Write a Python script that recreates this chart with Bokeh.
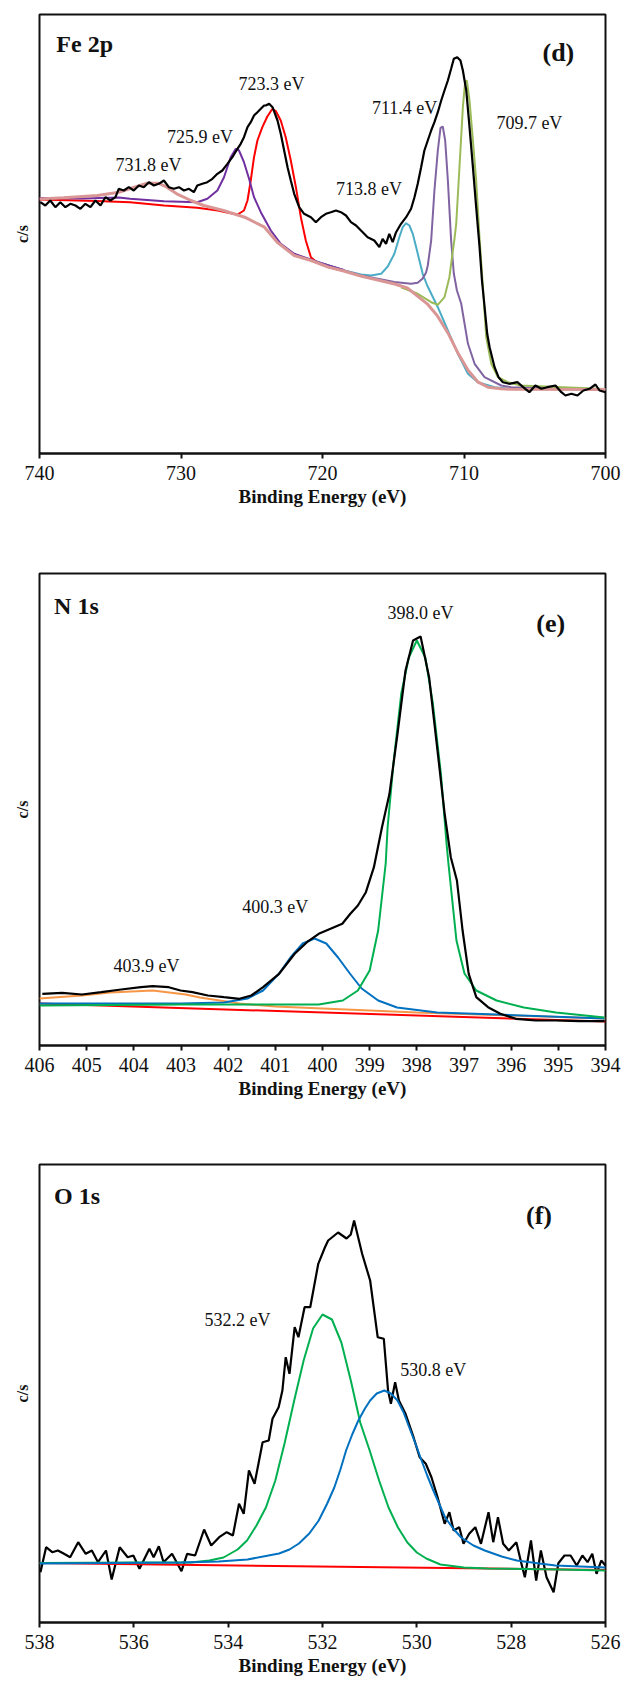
from bokeh.plotting import figure
from bokeh.models import Range1d, FixedTicker, Label
from bokeh.layouts import column
from bokeh.embed import file_html
from bokeh.resources import INLINE

FONT = "Liberation Serif"

# ---------------- tick labels ----------------
FE_TICKS = [740, 730, 720, 710, 700]
N_TICKS = [394, 395, 396, 397, 398, 399, 400, 401, 402, 403, 404, 405, 406]
O_TICKS = [526, 528, 530, 532, 534, 536, 538]

# ---------------- (d) Fe 2p ----------------
fe_black_ev = [739.94, 739.59, 739.24, 738.88, 738.53, 738.17, 737.82, 737.46, 737.11, 736.76,
               736.40, 736.05, 735.69, 735.34, 734.99, 734.63, 734.40, 734.04, 733.69, 733.34,
               732.98, 732.63, 732.27, 731.92, 731.57, 731.21, 730.86, 730.50, 730.15, 729.79,
               729.44, 729.09, 728.85, 728.49, 728.14, 727.78, 727.43, 727.08, 726.72, 726.37,
               726.01, 725.78, 725.55, 725.30, 725.07, 724.84, 724.60, 724.36, 724.13, 724.01,
               723.77, 723.53, 723.18, 722.95, 722.71, 722.47, 722.24, 722.00, 721.65, 721.30,
               720.82, 720.47, 720.11, 719.76, 719.41, 719.05, 718.70, 718.34, 717.99, 717.63,
               717.28, 716.81, 716.34, 715.98, 715.75, 715.51, 715.28, 715.04, 714.80, 714.45,
               714.09, 713.74, 713.50, 713.27, 713.03, 712.80, 712.56, 712.32, 712.09, 711.85,
               711.61, 711.38, 711.14, 710.91, 710.72, 710.48, 710.25, 710.08, 709.84, 709.61,
               709.37, 709.14, 708.90, 708.73, 708.59, 708.36, 708.19, 707.84, 707.56, 707.25,
               706.80, 706.23, 705.67, 705.38, 704.96, 704.53, 704.11, 703.54, 703.12, 702.83,
               702.41, 701.98, 701.56, 701.13, 700.71, 700.42, 700.00]
fe_black_cps = [251.3, 248.0, 253.0, 246.3, 251.3, 246.3, 249.7, 248.0, 244.7, 249.7,
                246.3, 253.0, 248.0, 256.3, 253.0, 256.3, 264.7, 263.0, 266.3, 263.0,
                268.0, 266.3, 271.3, 268.0, 269.7, 273.0, 266.3, 264.7, 266.3, 263.0,
                264.7, 261.3, 268.0, 269.7, 271.3, 274.7, 279.7, 283.0, 289.7, 296.3,
                304.7, 309.7, 316.3, 326.3, 331.3, 338.0, 341.3, 344.7, 348.0, 348.0,
                349.7, 346.3, 333.0, 319.7, 303.0, 286.3, 273.0, 259.7, 246.3, 239.7,
                236.3, 231.3, 236.3, 239.7, 241.3, 243.0, 241.3, 238.0, 231.3, 228.0,
                223.0, 216.3, 213.0, 206.3, 214.7, 209.7, 219.7, 211.3, 221.3, 229.7,
                236.3, 244.7, 256.3, 269.7, 286.3, 303.0, 313.0, 323.0, 331.3, 341.3,
                353.0, 363.0, 373.0, 384.7, 394.7, 396.3, 393.0, 383.0, 363.0, 326.3,
                286.3, 246.3, 206.3, 173.0, 153.0, 119.7, 106.3, 86.3, 76.3, 71.3,
                69.7, 71.3, 64.7, 61.3, 68.0, 64.7, 66.3, 68.0, 61.3, 58.0,
                59.7, 58.0, 63.0, 64.7, 69.0, 63.0, 61.3]

fe_bg_ev = [740.0, 738.3, 735.9, 734.4, 733.3, 732.4, 731.6, 731.0, 730.3, 729.3, 728.4, 727.0,
            725.5, 724.1, 723.2, 722.0, 720.8, 719.6, 718.5, 717.3, 716.1, 714.9, 714.0, 712.6,
            711.9, 711.1, 710.4, 709.7, 709.0, 708.3, 707.4, 706.7, 700.0]
fe_bg_cps = [254.5, 255.7, 258.0, 261.3, 266.3, 270.3, 270.3, 266.3, 259.7, 253.0, 248.0, 243.0,
             236.3, 226.3, 211.3, 198.0, 193.0, 186.5, 182.5, 177.5, 173.5, 169.5, 165.5, 149.7,
             138.0, 119.7, 99.7, 83.0, 71.3, 66.3, 64.7, 64.3, 64.0]

fe_p7233_ev = [740.0, 736.0, 733.6, 731.2, 728.85, 727.4, 726.5, 726.0, 725.55, 725.3, 725.07,
               724.84, 724.6, 724.25, 723.9, 723.55, 723.3, 722.95, 722.6, 722.24, 721.88, 721.53,
               721.18, 720.82, 720.47, 719.6, 718.5]
fe_p7233_cps = [254.0, 252.5, 251.3, 248.0, 245.7, 243.0, 240.3, 239.0, 243.0, 253.0, 273.0,
                296.3, 313.0, 326.3, 337.0, 344.5, 342.5, 333.0, 316.3, 293.0, 266.3, 236.3,
                213.0, 196.3, 192.0, 186.5, 182.5]

fe_p7259_ev = [740.0, 737.0, 734.4, 733.6, 731.2, 728.85, 728.14, 727.43, 726.96, 726.49, 726.13,
               725.9, 725.55, 725.19, 724.84, 724.36, 723.65, 722.95, 722.0, 720.8, 719.6, 718.5]
fe_p7259_cps = [255.5, 255.0, 256.0, 254.7, 252.3, 251.3, 254.7, 263.0, 276.3, 296.3, 304.7,
                303.0, 291.3, 274.7, 256.3, 241.3, 223.0, 209.7, 199.7, 193.7, 188.0, 183.5]

fe_p7138_ev = [722.0, 720.0, 718.46, 717.28, 716.57, 715.86, 715.39, 714.92, 714.57, 714.33,
               714.09, 713.86, 713.62, 713.38, 713.15, 712.92, 712.6, 711.85, 711.14, 710.43,
               709.72, 709.02, 707.84, 706.66, 700.0]
fe_p7138_cps = [199.0, 190.0, 183.0, 179.0, 178.0, 179.7, 187.0, 199.7, 216.3, 226.3,
                230.3, 228.0, 219.7, 206.3, 193.0, 179.7, 168.0, 146.3, 123.0, 99.7,
                79.7, 71.3, 66.3, 64.7, 64.2]

fe_p7114_ev = [720.0, 718.0, 717.28, 714.92, 713.74, 713.27, 712.92, 712.68, 712.56, 712.32,
               712.09, 711.85, 711.66, 711.5, 711.33, 711.14, 710.91, 710.72, 710.5, 710.2,
               709.72, 709.25, 708.55, 707.37, 706.66, 700.0]
fe_p7114_cps = [190.0, 181.0, 178.0, 171.5, 169.7, 170.7, 175.0, 181.0, 188.0, 213.0,
                263.0, 303.0, 325.7, 327.0, 313.0, 273.0, 213.0, 180.0, 163.0, 150.0,
                109.7, 89.7, 76.3, 68.0, 66.3, 64.3]

fe_p7097_ev = [714.45, 713.27, 712.32, 711.85, 711.38, 711.03, 710.86, 710.67, 710.55, 710.32,
               710.08, 709.92, 709.8, 709.61, 709.37, 709.14, 708.9, 708.66, 708.43, 708.07,
               707.6, 706.9, 706.0, 700.0]
fe_p7097_cps = [166.3, 159.7, 151.3, 148.7, 156.3, 176.3, 195.0, 215.0, 229.7, 286.3,
                346.3, 371.3, 373.0, 353.0, 313.0, 273.0, 215.0, 166.0, 116.3, 89.7,
                76.3, 71.3, 68.0, 64.5]

# ---------------- (e) N 1s ----------------
n_black_ev = [405.94, 405.52, 405.10, 404.69, 404.27, 403.85, 403.60, 403.26, 403.01, 402.76,
              402.43, 402.09, 401.76, 401.51, 401.26, 400.92, 400.59, 400.33, 400.08, 399.83,
              399.58, 399.41, 399.25, 399.08, 398.91, 398.74, 398.58, 398.41, 398.24, 398.08,
              397.92, 397.74, 397.57, 397.41, 397.28, 397.15, 397.03, 396.90, 396.74, 396.49,
              396.23, 395.90, 395.48, 395.06, 394.56, 394.02]
n_black_cps = [51.7, 52.7, 51.0, 53.3, 56.0, 58.3, 59.3, 58.3, 55.0, 53.3,
               50.0, 48.3, 46.7, 50.0, 58.3, 71.7, 91.7, 103.3, 111.7, 116.7,
               121.7, 131.7, 140.0, 153.3, 178.3, 218.0, 251.7, 311.7, 375.0, 405.0,
               409.0, 368.3, 298.3, 231.7, 188.3, 165.0, 115.0, 71.7, 48.3, 38.3,
               31.7, 26.7, 25.0, 25.0, 24.3, 24.3]

n_p3980_ev = [406.0, 403.0, 401.0, 400.08, 399.57, 399.25, 399.0, 398.82, 398.66, 398.62,
              398.49, 398.33, 398.17, 398.0, 397.82, 397.66, 397.49, 397.37, 397.33, 397.16,
              396.99, 396.74, 396.31, 395.73, 395.05, 394.02]
n_p3980_cps = [40.0, 41.0, 41.0, 41.0, 45.0, 55.0, 75.0, 115.0, 182.0, 218.0,
               285.0, 352.0, 388.0, 405.0, 388.0, 342.0, 272.0, 202.0, 182.0, 105.0,
               72.0, 55.0, 45.0, 38.0, 33.0, 28.0]

n_p4003_ev = [406.0, 403.0, 402.09, 401.59, 401.26, 400.92, 400.68, 400.42, 400.17, 399.92,
              399.67, 399.42, 399.17, 398.82, 398.42, 397.57, 396.31, 394.02]
n_p4003_cps = [42.0, 42.0, 43.0, 47.0, 55.0, 72.0, 88.0, 102.0, 107.0, 102.0,
               88.0, 72.0, 57.0, 45.0, 38.0, 33.0, 31.0, 27.0]

n_p4039_ev = [406.0, 405.1, 404.5, 403.6, 402.9, 402.6, 401.76, 401.0, 400.0, 398.0, 396.0, 394.0]
n_p4039_cps = [47.0, 50.0, 53.0, 55.0, 51.0, 48.0, 42.0, 39.0, 37.0, 33.0, 30.0, 27.0]

n_bg_ev = [406.0, 394.0]
n_bg_cps = [42.0, 24.0]

# ---------------- (f) O 1s ----------------
o_black_ev = [537.98, 537.86, 537.73, 537.61, 537.48, 537.35, 537.18, 537.02, 536.89, 536.76,
              536.59, 536.47, 536.30, 536.13, 536.01, 535.88, 535.67, 535.58, 535.47, 535.37,
              535.19, 534.99, 534.87, 534.70, 534.51, 534.36, 534.19, 534.03, 533.90, 533.77,
              533.67, 533.56, 533.44, 533.27, 533.14, 533.06, 532.93, 532.85, 532.78, 532.70,
              532.59, 532.51, 532.38, 532.26, 532.09, 531.95, 531.88, 531.67, 531.49, 531.40,
              531.33, 531.16, 530.99, 530.83, 530.70, 530.61, 530.55, 530.46, 530.38, 530.24,
              530.07, 529.94, 529.81, 529.69, 529.56, 529.41, 529.31, 529.22, 529.10, 529.01,
              528.89, 528.76, 528.64, 528.48, 528.38, 528.28, 528.17, 528.05, 527.89, 527.79,
              527.71, 527.58, 527.47, 527.37, 527.25, 527.10, 527.00, 526.87, 526.74, 526.61,
              526.49, 526.38, 526.28, 526.19, 526.09, 526.00]
o_black_cps = [50.3, 75.3, 70.3, 72.0, 68.7, 65.3, 80.3, 68.7, 72.0, 60.3,
               72.0, 43.0, 75.3, 65.3, 67.0, 53.7, 73.7, 65.3, 76.3, 60.3,
               68.7, 51.3, 68.7, 67.0, 93.0, 77.0, 85.3, 90.3, 87.0, 118.7,
               108.7, 152.0, 138.7, 180.3, 182.0, 203.7, 215.3, 232.0, 265.3, 248.7,
               295.3, 285.3, 315.3, 315.3, 358.7, 375.0, 382.0, 390.0, 384.0, 388.0,
               402.0, 368.7, 342.0, 285.3, 283.7, 232.0, 218.7, 240.3, 222.0, 208.7,
               185.3, 165.3, 158.7, 145.3, 125.3, 98.7, 110.3, 92.0, 95.3, 78.7,
               88.7, 95.3, 78.7, 110.3, 80.3, 105.3, 78.7, 72.0, 80.3, 60.3,
               45.3, 82.0, 42.0, 72.0, 45.3, 30.3, 59.3, 67.0, 67.0, 57.0,
               67.0, 60.3, 68.7, 48.7, 62.0, 57.0]

o_p5322_ev = [538.0, 536.0, 534.8, 534.4, 534.1, 533.8, 533.6, 533.4, 533.2, 533.0, 532.8,
              532.6, 532.4, 532.2, 532.0, 531.8, 531.6, 531.4, 531.2, 531.0, 530.8, 530.6,
              530.4, 530.2, 530.0, 529.8, 529.5, 529.0, 528.5, 527.0, 526.0]
o_p5322_cps = [59.5, 60.0, 60.0, 62.0, 65.0, 73.0, 82.0, 97.0, 115.0, 142.0, 180.0,
               222.0, 262.0, 294.0, 308.0, 303.0, 280.0, 242.0, 200.0, 172.0, 142.0, 115.0,
               95.0, 80.0, 70.0, 64.0, 58.0, 55.0, 54.0, 53.0, 52.0]

o_p5308_ev = [538.0, 535.0, 534.2, 533.59, 532.92, 532.7, 532.5, 532.28, 532.08, 531.9, 531.75,
              531.62, 531.5, 531.37, 531.24, 531.1, 530.99, 530.85, 530.69, 530.55, 530.41,
              530.28, 530.16, 530.03, 529.9, 529.78, 529.65, 529.52, 529.4, 529.23, 529.06,
              528.8, 528.56, 528.2, 527.88, 527.4, 527.06, 526.0]
o_p5308_cps = [59.0, 60.0, 61.0, 63.0, 69.0, 73.0, 79.0, 89.0, 102.0, 119.0, 135.0,
               153.0, 172.0, 188.0, 202.0, 214.0, 222.0, 229.0, 232.0, 229.0, 222.0,
               210.0, 195.0, 179.0, 162.0, 147.0, 132.0, 118.0, 105.0, 94.0, 85.0,
               77.0, 72.0, 66.0, 62.0, 59.0, 57.0, 55.0]

o_bg_ev = [538.0, 526.0]
o_bg_cps = [59.5, 52.5]

# ---------------- colours ----------------
BLACK = "#000000"
RED = "#ff0000"
PURPLE = "#7030a0"
PURPLE2 = "#8064a2"
CYAN = "#4bacc6"
OLIVE = "#9bbb59"
PINK = "#d99694"
GREEN = "#00b050"
BLUE = "#0070c0"
ORANGE = "#f79646"


def make_panel(height, top, bottom, left, right, xr, yr, ticks):
    p = figure(width=624, height=height, x_range=Range1d(*xr), y_range=Range1d(*yr),
               output_backend="svg", toolbar_location=None,
               min_border_top=top, min_border_bottom=bottom,
               min_border_left=left, min_border_right=right)
    p.grid.visible = False
    p.background_fill_color = "white"
    p.border_fill_color = "white"
    p.outline_line_color = "#111111"
    p.outline_line_width = 2
    xa = p.xaxis[0]
    xa.ticker = FixedTicker(ticks=ticks)
    xa.axis_line_width = 2
    xa.axis_line_color = "#111111"
    xa.major_tick_line_width = 2
    xa.major_tick_line_color = "#111111"
    xa.major_tick_out = 5
    xa.major_tick_in = 0
    xa.minor_tick_line_color = None
    xa.major_label_text_font = FONT
    xa.major_label_text_font_size = "20px"
    xa.major_label_text_color = "#111111"
    xa.major_label_standoff = 7
    xa.axis_label = "Binding Energy (eV)"
    xa.axis_label_text_font = FONT
    xa.axis_label_text_font_style = "bold"
    xa.axis_label_text_font_size = "19px"
    xa.axis_label_text_color = "#111111"
    xa.axis_label_standoff = 3
    ya = p.yaxis[0]
    ya.ticker = FixedTicker(ticks=[])
    ya.axis_line_color = None
    ya.major_tick_line_color = None
    ya.minor_tick_line_color = None
    ya.major_tick_out = 0
    ya.major_tick_in = 0
    ya.axis_label = "c/s"
    ya.axis_label_text_font = FONT
    ya.axis_label_text_font_style = "bold"
    ya.axis_label_text_font_size = "16px"
    ya.axis_label_text_color = "#111111"
    ya.axis_label_standoff = 9
    return p


def add_text(p, x, y, txt, size, bold=False, align="center"):
    p.add_layout(Label(x=x, y=y, text=txt, text_font=FONT, text_font_size=size,
                       text_font_style="bold" if bold else "normal",
                       text_align=align, text_baseline="middle", text_color="#111111"))


# ---------- panel (d) ----------
p1 = make_panel(540, 14, 87, 39, 19, (740, 700), (0, 439), FE_TICKS)
p1.line(fe_p7138_ev, fe_p7138_cps, line_color=CYAN, line_width=2)
p1.line(fe_p7114_ev, fe_p7114_cps, line_color=PURPLE2, line_width=2)
p1.line(fe_p7097_ev, fe_p7097_cps, line_color=OLIVE, line_width=2)
p1.line(fe_p7233_ev, fe_p7233_cps, line_color=RED, line_width=2)
p1.line(fe_p7259_ev, fe_p7259_cps, line_color=PURPLE, line_width=2)
p1.line(fe_bg_ev, fe_bg_cps, line_color=PINK, line_width=3)
p1.line(fe_black_ev, fe_black_cps, line_color=BLACK, line_width=2.2)
add_text(p1, 738.81, 410, "Fe 2p", "24px", bold=True, align="left")
add_text(p1, 703.33, 401, "(d)", "26px", bold=True)
add_text(p1, 723.61, 370, "723.3 eV", "18px")
add_text(p1, 728.65, 317, "725.9 eV", "18px")
add_text(p1, 732.29, 289, "731.8 eV", "18px")
add_text(p1, 716.71, 265, "713.8 eV", "18px")
add_text(p1, 714.20, 346, "711.4 eV", "18px")
add_text(p1, 705.38, 331, "709.7 eV", "18px")

# ---------- panel (e) ----------
p2 = make_panel(580, 33, 75, 37, 13, (406, 394), (0, 472), N_TICKS)
p2.line(n_bg_ev, n_bg_cps, line_color=RED, line_width=2)
p2.line(n_p4039_ev, n_p4039_cps, line_color=ORANGE, line_width=2)
p2.line(n_p4003_ev, n_p4003_cps, line_color=BLUE, line_width=2)
p2.line(n_p3980_ev, n_p3980_cps, line_color=GREEN, line_width=2)
p2.line(n_black_ev, n_black_cps, line_color=BLACK, line_width=2.2)
add_text(p2, 405.69, 440, "N 1s", "24px", bold=True, align="left")
add_text(p2, 395.16, 422, "(e)", "26px", bold=True)
add_text(p2, 397.92, 433, "398.0 eV", "18px")
add_text(p2, 401.00, 139, "400.3 eV", "18px")
add_text(p2, 403.73, 80, "403.9 eV", "18px")

# ---------- panel (f) ----------
p3 = make_panel(561, 44, 59, 39, 15, (538, 526), (0, 458), O_TICKS)
p3.line(o_black_ev, o_black_cps, line_color=BLACK, line_width=2.2)
p3.line(o_bg_ev, o_bg_cps, line_color=RED, line_width=2)
p3.line(o_p5322_ev, o_p5322_cps, line_color=GREEN, line_width=2)
p3.line(o_p5308_ev, o_p5308_cps, line_color=BLUE, line_width=2)
add_text(p3, 537.69, 427, "O 1s", "24px", bold=True, align="left")
add_text(p3, 527.41, 407, "(f)", "26px", bold=True)
add_text(p3, 533.80, 303, "532.2 eV", "18px")
add_text(p3, 529.65, 253, "530.8 eV", "18px")

layout = column(p1, p2, p3)
open("out.html", "w").write(file_html(layout, INLINE))
